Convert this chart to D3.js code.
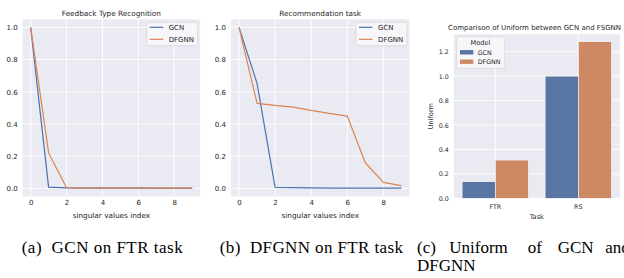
<!DOCTYPE html>
<html>
<head>
<meta charset="utf-8">
<script src="https://cdn.jsdelivr.net/npm/d3@7"></script>
<style>
  body { margin: 0; background: #fff; }
  svg { display: block; }
  text { font-family: "DejaVu Sans", sans-serif; fill: #262626; }
  .cap { font-family: "Liberation Serif", "Times New Roman", serif; fill: #000; font-size: 17px; }
</style>
</head>
<body>
<svg id="fig" width="624" height="278"></svg>
<script>
// singular values (normalised), index 0..9
var svIndex = [0, 1, 2, 3, 4, 5, 6, 7, 8, 9];
var ftrGCN   = [1.0, 0.008, 0.003, 0.002, 0.002, 0.002, 0.002, 0.002, 0.002, 0.002];
var ftrDFGNN = [1.0, 0.22, 0.004, 0.003, 0.003, 0.003, 0.003, 0.002, 0.002, 0.002];
var recGCN   = [1.0, 0.652, 0.006, 0.004, 0.003, 0.002, 0.002, 0.001, 0.001, 0.001];
var recDFGNN = [1.0, 0.528, 0.515, 0.505, 0.484, 0.466, 0.449, 0.159, 0.037, 0.017];
var lineTicksX = [0, 2, 4, 6, 8];
var lineTicksY = [0, 0.2, 0.4, 0.6, 0.8, 1.0];

// uniform comparison
var tasks = ["FTR", "RS"];
var models = ["GCN", "DFGNN"];
var uniformGCN   = [0.136, 1.0];
var uniformDFGNN = [0.313, 1.282];
var barTicksY = [0, 0.2, 0.4, 0.6, 0.8, 1.0, 1.2];

var lineColors = {GCN: "#4c72b0", DFGNN: "#dd8452"};
var barColors = {GCN: "#5975a4", DFGNN: "#cc8963"};
var bg = "#eaeaf2";

var svg = d3.select("#fig");

function legendBox(g, x, y, w, h) {
	g.append("rect")
		.attr("x", x).attr("y", y).attr("width", w).attr("height", h)
		.attr("rx", 2)
		.attr("fill", "#f7f7fa")
		.attr("stroke", "#d0d0d0")
		.attr("stroke-width", 0.6);
}

function linePanel(opts) {
	var g = svg.append("g");
	var x = d3.scaleLinear().domain([-0.45, 9.45]).range([opts.left, opts.right]);
	var y = d3.scaleLinear().domain([-0.05, 1.05]).range([196.4, 19.3]);

	g.append("rect")
		.attr("x", opts.left).attr("y", y(1.05))
		.attr("width", opts.right - opts.left).attr("height", y(-0.05) - y(1.05))
		.attr("fill", bg);

	// grid
	g.selectAll(".gx").data(lineTicksX).enter().append("line")
		.attr("x1", function(d) { return x(d); }).attr("x2", function(d) { return x(d); })
		.attr("y1", y(1.05)).attr("y2", y(-0.05))
		.attr("stroke", "#fff").attr("stroke-width", 0.9);
	g.selectAll(".gy").data(lineTicksY).enter().append("line")
		.attr("x1", opts.left).attr("x2", opts.right)
		.attr("y1", function(d) { return y(d); }).attr("y2", function(d) { return y(d); })
		.attr("stroke", "#fff").attr("stroke-width", 0.9);

	// axes (seaborn style: no spines, no ticks)
	var xAxis = g.append("g")
		.attr("transform", "translate(0," + y(-0.05) + ")")
		.call(d3.axisBottom(x).tickValues(lineTicksX).tickSize(0).tickPadding(4).tickFormat(d3.format("d")));
	var yAxis = g.append("g")
		.attr("transform", "translate(" + opts.left + ",0)")
		.call(d3.axisLeft(y).tickValues(lineTicksY).tickSize(0).tickPadding(5).tickFormat(d3.format(".1f")));
	[xAxis, yAxis].forEach(function(a) {
		a.select(".domain").remove();
		a.selectAll("text").style("font-size", "7px").style("fill", "#262626")
			.style("font-family", "DejaVu Sans, sans-serif");
	});

	g.append("text")
		.attr("x", (opts.left + opts.right) / 2).attr("y", 218)
		.attr("text-anchor", "middle").style("font-size", "7.3px")
		.text("singular values index");
	g.append("text")
		.attr("x", (opts.left + opts.right) / 2).attr("y", 15.5)
		.attr("text-anchor", "middle").style("font-size", "7.3px")
		.text(opts.title);

	var line = d3.line()
		.x(function(d, i) { return x(svIndex[i]); })
		.y(function(d) { return y(d); });

	[["GCN", opts.gcn], ["DFGNN", opts.dfgnn]].forEach(function(s) {
		g.append("path").datum(s[1])
			.attr("d", line)
			.attr("fill", "none")
			.attr("stroke", lineColors[s[0]])
			.attr("stroke-width", 1.2)
			.attr("stroke-linejoin", "round");
	});

	// legend
	var lx = opts.right - 53.5, ly = 22.3;
	legendBox(g, lx, ly, 50.8, 23.4);
	models.forEach(function(m, i) {
		var yy = ly + 5 + i * 12;
		g.append("line")
			.attr("x1", lx + 3).attr("x2", lx + 16.5)
			.attr("y1", yy).attr("y2", yy)
			.attr("stroke", lineColors[m]).attr("stroke-width", 1.2);
		g.append("text")
			.attr("x", lx + 22).attr("y", yy + 2.5)
			.style("font-size", "7px")
			.text(m);
	});
}

linePanel({left: 22.6, right: 200.2, title: "Feedback Type Recognition", gcn: ftrGCN, dfgnn: ftrDFGNN});
linePanel({left: 230.9, right: 409.5, title: "Recommendation task", gcn: recGCN, dfgnn: recDFGNN});

// bar panel
(function() {
	var g = svg.append("g");
	var left = 453.8, right = 619.8;
	var x = d3.scaleBand().domain(tasks).range([left, right]).paddingInner(0.2).paddingOuter(0.1);
	var xm = d3.scaleBand().domain(models).range([0, x.bandwidth()]);
	var y = d3.scaleLinear().domain([0, 1.344]).range([198.3, 34.1]);

	g.append("rect")
		.attr("x", left).attr("y", y(1.344))
		.attr("width", right - left).attr("height", y(0) - y(1.344))
		.attr("fill", bg);

	g.selectAll(".gy").data(barTicksY).enter().append("line")
		.attr("x1", left).attr("x2", right)
		.attr("y1", function(d) { return y(d); }).attr("y2", function(d) { return y(d); })
		.attr("stroke", "#fff").attr("stroke-width", 0.9);
	g.selectAll(".gx").data(tasks).enter().append("line")
		.attr("x1", function(d) { return x(d) + x.bandwidth() / 2; })
		.attr("x2", function(d) { return x(d) + x.bandwidth() / 2; })
		.attr("y1", y(1.344)).attr("y2", y(0))
		.attr("stroke", "#fff").attr("stroke-width", 0.9);

	var rows = [];
	tasks.forEach(function(t, i) {
		rows.push({task: t, model: "GCN", v: uniformGCN[i]});
		rows.push({task: t, model: "DFGNN", v: uniformDFGNN[i]});
	});

	g.selectAll(".bar").data(rows).enter().append("rect")
		.attr("x", function(d) { return x(d.task) + xm(d.model); })
		.attr("width", xm.bandwidth())
		.attr("y", function(d) { return y(d.v); })
		.attr("height", function(d) { return y(0) - y(d.v); })
		.attr("fill", function(d) { return barColors[d.model]; })
		.attr("stroke", "#fff").attr("stroke-width", 0.6);

	var xAxis = g.append("g")
		.attr("transform", "translate(0," + y(0) + ")")
		.call(d3.axisBottom(x).tickSize(0).tickPadding(6));
	var yAxis = g.append("g")
		.attr("transform", "translate(" + left + ",0)")
		.call(d3.axisLeft(y).tickValues(barTicksY).tickSize(0).tickPadding(5).tickFormat(d3.format(".1f")));
	[xAxis, yAxis].forEach(function(a) {
		a.select(".domain").remove();
		a.selectAll("text").style("font-size", "6.3px").style("fill", "#262626")
			.style("font-family", "DejaVu Sans, sans-serif");
	});

	g.append("text")
		.attr("x", (left + right) / 2).attr("y", 218.5)
		.attr("text-anchor", "middle").style("font-size", "6.6px")
		.text("Task");
	g.append("text")
		.attr("transform", "translate(433," + (y(0) + y(1.344)) / 2 + ") rotate(-90)")
		.attr("text-anchor", "middle").style("font-size", "6.6px")
		.text("Uniform");
	g.append("text")
		.attr("x", 448).attr("y", 29.5)
		.style("font-size", "7px")
		.text("Comparison of Uniform between GCN and FSGNN");

	var lx = 456.7, ly = 36.7;
	legendBox(g, lx, ly, 47.6, 31.6);
	g.append("text")
		.attr("x", lx + 23.8).attr("y", ly + 7.8)
		.attr("text-anchor", "middle").style("font-size", "6.6px")
		.text("Model");
	models.forEach(function(m, i) {
		var yy = ly + 15.6 + i * 9.4;
		g.append("rect")
			.attr("x", lx + 3.3).attr("y", yy - 2.2)
			.attr("width", 13.3).attr("height", 4.4)
			.attr("fill", barColors[m]);
		g.append("text")
			.attr("x", lx + 21).attr("y", yy + 2.3)
			.style("font-size", "6.3px")
			.text(m);
	});
})();

// captions
svg.append("text").attr("class", "cap").attr("x", 21.7).attr("y", 253)
	.attr("textLength", 161).attr("lengthAdjust", "spacing")
	.text("(a)\u00a0 GCN on FTR task");
svg.append("text").attr("class", "cap").attr("x", 219.7).attr("y", 253)
	.attr("textLength", 183.3).attr("lengthAdjust", "spacing")
	.text("(b)\u00a0 DFGNN on FTR task");
var capC = ["(c)", "Uniform", "of", "GCN", "and"];
var capCx = [417, 449.3, 527.7, 557.7, 605.3];
capC.forEach(function(w, i) {
	svg.append("text").attr("class", "cap").attr("x", capCx[i]).attr("y", 253).text(w);
});
svg.append("text").attr("class", "cap").attr("x", 417).attr("y", 270.5).text("DFGNN");
</script>
</body>
</html>
